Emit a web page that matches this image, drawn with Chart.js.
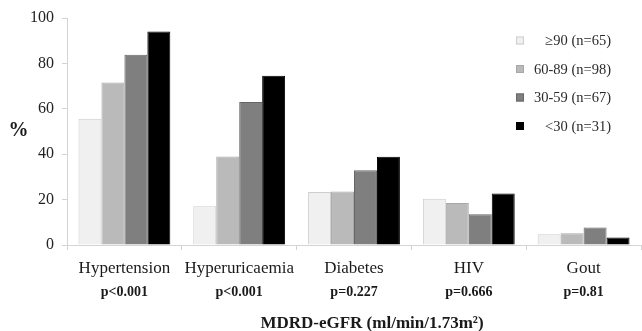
<!DOCTYPE html>
<html>
<head>
<meta charset="utf-8">
<script src="https://cdn.jsdelivr.net/npm/chart.js@4"></script>
<style>
html,body{margin:0;padding:0;background:#fff;overflow:hidden;}
#wrap{position:relative;width:642px;height:331px;}
</style>
</head>
<body>
<div id="wrap"><canvas id="c" width="642" height="331"></canvas></div>
<script>
const categories = ["Hypertension", "Hyperuricaemia", "Diabetes", "HIV", "Gout"];
const pValues = ["p<0.001", "p<0.001", "p=0.227", "p=0.666", "p=0.81"];
const seriesLabels = ["\u226590 (n=65)", "60-89 (n=98)", "30-59 (n=67)", "<30 (n=31)"];
const egfr90 = [55.6, 17.1, 23.3, 20.4, 4.7];
const egfr60 = [71.6, 39.0, 23.6, 18.5, 5.2];
const egfr30 = [83.8, 63.0, 32.9, 13.5, 7.7];
const egfrLow = [94.0, 74.6, 38.9, 22.7, 3.3];
const yTicks = [0, 20, 40, 60, 80, 100];
const yTitle = "%";
const xTitle = "MDRD-eGFR (ml/min/1.73m\u00b2)";

const fills = ["#f0f0f0", "#bababa", "#7f7f7f", "#000000"];
const borders = ["#cdcdcd", "#a8a8a8", "#666666", "#000000"];
const serif = "'Liberation Serif', 'Times New Roman', serif";

const extraText = {
  id: 'extraText',
  afterDraw(chart) {
    const ctx = chart.ctx;
    const xs = chart.scales.x;
    ctx.save();
    ctx.fillStyle = '#1a1a1a';
    ctx.font = 'bold 14px ' + serif;
    ctx.textAlign = 'center';
    ctx.textBaseline = 'middle';
    pValues.forEach((p, i) => {
      ctx.fillText(p, xs.getPixelForValue(i), 292);
    });
    ctx.font = 'bold 17px ' + serif;
    ctx.fillText(xTitle, 372, 324);
    ctx.font = 'bold 20px ' + serif;
    ctx.fillText(yTitle, 18.5, 131);
    ctx.font = '14.5px ' + serif;
    ctx.textAlign = 'right';
    chart.data.datasets.forEach((ds, i) => {
      const cy = 40.5 + 28.5 * i;
      ctx.fillStyle = ds.backgroundColor;
      ctx.fillRect(516, cy - 4, 8, 8);
      ctx.strokeStyle = ds.borderColor;
      ctx.lineWidth = 1;
      ctx.strokeRect(516.5, cy - 3.5, 7, 7);
      ctx.fillStyle = '#2a2a2a';
      ctx.fillText(ds.label, 611, cy + 1);
    });
    ctx.restore();
  }
};

const seriesData = [egfr90, egfr60, egfr30, egfrLow];

new Chart(document.getElementById('c'), {
  type: 'bar',
  data: {
    labels: categories,
    datasets: seriesData.map((d, i) => ({
      label: seriesLabels[i],
      data: d,
      backgroundColor: fills[i],
      borderColor: borders[i],
      borderWidth: 1,
      barPercentage: 1.0,
      categoryPercentage: 0.8
    }))
  },
  options: {
    responsive: false,
    animation: false,
    layout: { padding: { top: 18, right: 1, left: 0, bottom: 0 } },
    plugins: { legend: { display: false }, tooltip: { enabled: false } },
    scales: {
      x: {
        afterFit(scale) { scale.height = 86; },
        grid: { display: true, drawOnChartArea: false, drawTicks: true, tickLength: 5, color: '#d4d4d4', offset: true },
        border: { display: true, color: '#d4d4d4' },
        ticks: { font: { family: serif, size: 17 }, color: '#1a1a1a', padding: 8, maxRotation: 0, autoSkip: false }
      },
      y: {
        min: 0, max: 100,
        afterFit(scale) { scale.width = 67; },
        afterBuildTicks(scale) { scale.ticks = yTicks.map(v => ({ value: v })); },
        grid: { display: true, drawOnChartArea: false, drawTicks: true, tickLength: 5, color: '#d4d4d4' },
        border: { display: true, color: '#d4d4d4' },
        ticks: { font: { family: serif, size: 16 }, color: '#222', padding: 8 }
      }
    }
  },
  plugins: [extraText]
});
</script>
</body>
</html>
